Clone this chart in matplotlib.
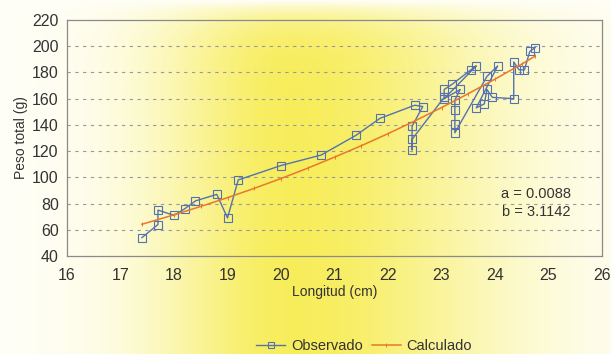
import numpy as np
import matplotlib
matplotlib.use("Agg")
import matplotlib.pyplot as plt
from matplotlib.lines import Line2D

plt.rcParams['font.family'] = ['Liberation Sans', 'DejaVu Sans']

# Observed (sequence as drawn)
obs_x = [17.4, 17.7, 17.7, 18.0, 18.2, 18.4, 18.8, 19.0, 19.2, 20.0, 20.75, 21.4, 21.85,
         22.5, 22.65, 22.45, 22.45, 22.45, 23.05, 23.05, 23.2, 23.55, 23.65, 23.05, 23.35,
         23.25, 23.25, 23.25, 23.25, 23.85, 24.05, 23.65, 23.8, 23.85, 23.95, 24.35, 24.35,
         24.45, 24.55, 24.65, 24.75]
obs_y = [54, 64, 75, 71, 76, 82, 87, 69, 98, 109, 117, 132, 145,
         155, 154, 139, 121, 129, 161, 167, 171, 182, 185, 160, 167,
         159, 151, 141, 134, 177, 185, 153, 156, 167, 161, 160, 188,
         182, 182, 196, 199]

# Calculated curve
calc_x = [17.4, 18.0, 18.5, 19.0, 19.5, 20.0, 20.5, 21.0, 21.5, 22.0, 22.5, 23.0, 23.5, 24.0, 24.5, 24.75]
calc_y = [64.2, 71.4, 77.8, 84.5, 91.6, 99.1, 107.0, 115.4, 124.1, 133.3, 143.0, 153.2, 163.8, 174.9, 186.4, 192.4]

x_ticks = [16, 17, 18, 19, 20, 21, 22, 23, 24, 25, 26]
y_ticks = [40, 60, 80, 100, 120, 140, 160, 180, 200, 220]

W, H = 611, 354
fig = plt.figure(figsize=(W / 100, H / 100), dpi=100)

# background gradient
u = np.linspace(0, 1, W)[None, :]
v = np.linspace(0, 1, H)[:, None]
s = np.where(u < 0.48, 0.22, 0.33)
w = np.exp(-((u - 0.48) / s) ** 2)
w = w * (1 - np.exp(-v / 0.05))
w = np.clip(w * 0.97 + 0.03, 0, 1)
white = np.array([1.0, 1.0, 0.99])
yellow = np.array([0.97, 0.93, 0.36])
img = white[None, None, :] * (1 - w[..., None]) + yellow[None, None, :] * w[..., None]
bg = fig.add_axes([0, 0, 1, 1], zorder=0)
bg.imshow(img, aspect='auto', extent=[0, 1, 0, 1], interpolation='bilinear')
bg.axis('off')

ax = fig.add_axes([67 / W, 1 - 256 / H, (602 - 67) / W, (256 - 20) / H], zorder=1)
ax.set_facecolor('none')

blue = '#5472b0'
orange = '#e8782a'
ax.plot(obs_x, obs_y, color=blue, lw=1.0, marker='s', ms=5.5, mfc='none', mec=blue, mew=0.8, zorder=3)
ax.plot(calc_x, calc_y, color=orange, lw=1.1, marker='|', ms=3.5, mew=0.7, zorder=4)

ax.set_xlim(16, 26)
ax.set_ylim(40, 220)
ax.set_xticks(x_ticks)
ax.set_yticks(y_ticks)
ax.tick_params(length=0, labelsize=11.5, labelcolor='#333333', pad=6)
ax.tick_params(axis='x', pad=9)
for sp in ax.spines.values():
    sp.set_color('#8a8a8a')
    sp.set_linewidth(0.9)
for yv in y_ticks[1:-1]:
    ax.axhline(yv, color='#9a9a9a', lw=0.8, ls=(0, (3, 4)), zorder=1)

ax.set_xlabel('Longitud (cm)', fontsize=10, color='#333333', labelpad=1)
ax.set_ylabel('Peso total (g)', fontsize=10, color='#333333', labelpad=3)

ax.text(25.42, 87.6, 'a = 0.0088', ha='right', va='center', fontsize=10.5, color='#333333')
ax.text(25.42, 73.3, 'b = 3.1142', ha='right', va='center', fontsize=10.5, color='#333333')

handles = [Line2D([], [], color=blue, lw=1.0, marker='s', ms=4.5, mfc='none', mec=blue, mew=0.8),
           Line2D([], [], color=orange, lw=1.1, marker='|', ms=3.5, mew=0.7)]
fig.legend(handles, ['Observado', 'Calculado'], loc='center', bbox_to_anchor=(364 / W, 1 - 346 / H),
           ncol=2, frameon=False, fontsize=10.5, handlelength=2.0, columnspacing=0.6, handletextpad=0.4,
           labelcolor='#333333')

fig.savefig('out.png', dpi=100)
